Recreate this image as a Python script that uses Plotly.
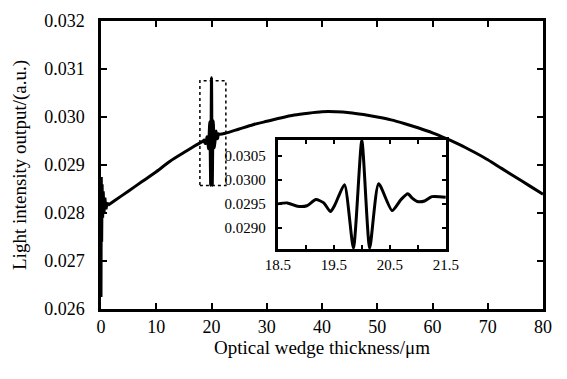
import plotly.graph_objects as go

# ---- data ----
# start-up transient near zero thickness
zero_x = [0.00, 0.05, 0.12, 0.20, 0.30, 0.40, 0.55, 0.70, 0.90, 1.10, 1.25]
zero_y = [0.02625, 0.02875, 0.02740, 0.02860, 0.02790, 0.02845, 0.02800, 0.02832, 0.02808, 0.02822, 0.02816]

# smooth envelope, left of the fringe packet
left_x = [1.25, 2.5, 5.0, 7.5, 10.0, 12.5, 15.0, 17.0]
left_y = [0.02816, 0.02826, 0.02846, 0.02866, 0.02886, 0.02908, 0.02926, 0.02940]

# fringe packet around 20 um (also shown in the inset)
inset_x = [18.50, 18.67, 18.85, 19.02, 19.18, 19.32, 19.44, 19.52, 19.69, 19.85,
           20.00, 20.14, 20.30, 20.54, 20.70, 20.82, 20.90, 20.99, 21.12, 21.25, 21.50]
inset_y = [0.02950, 0.02952, 0.02945, 0.02946, 0.02959, 0.02952, 0.02934, 0.02948, 0.02990, 0.02858,
           0.03082, 0.02858, 0.02992, 0.02936, 0.02959, 0.02971, 0.02962, 0.02955, 0.02956, 0.02965, 0.02964]

# smooth envelope, right of the fringe packet
right_x = [22.5, 25.0, 27.5, 30.0, 32.5, 35.0, 37.5, 40.0, 42.5, 45.0, 47.5, 50.0,
           52.5, 55.0, 57.5, 60.0, 62.5, 65.0, 67.5, 70.0, 72.5, 75.0, 77.5, 80.0]
right_y = [0.02966, 0.02975, 0.02984, 0.02991, 0.02998, 0.03004, 0.03008, 0.03011, 0.03011, 0.03009,
           0.03005, 0.03000, 0.02994, 0.02986, 0.02977, 0.02967, 0.02955, 0.02942, 0.02927, 0.02911,
           0.02893, 0.02875, 0.02857, 0.02839]

main_xticks = [0, 10, 20, 30, 40, 50, 60, 70, 80]
main_yticks = [0.026, 0.027, 0.028, 0.029, 0.030, 0.031, 0.032]
inset_xticks = [18.5, 19.0, 19.5, 20.0, 20.5, 21.0, 21.5]
inset_xtext = ["18.5", "", "19.5", "", "20.5", "", "21.5"]
inset_yticks = [0.0290, 0.0295, 0.0300, 0.0305]

smooth_x = left_x + inset_x + right_x
smooth_y = left_y + inset_y + right_y

FONT = "Liberation Serif"

fig = go.Figure()
fig.add_trace(go.Scatter(x=zero_x, y=zero_y, mode="lines",
                         line=dict(color="black", width=3), xaxis="x", yaxis="y",
                         showlegend=False))
fig.add_trace(go.Scatter(x=smooth_x, y=smooth_y, mode="lines",
                         line=dict(color="black", width=3, shape="spline", smoothing=0.6),
                         xaxis="x", yaxis="y", showlegend=False))
fig.add_trace(go.Scatter(x=inset_x, y=inset_y, mode="lines",
                         line=dict(color="black", width=3, shape="spline", smoothing=0.6),
                         xaxis="x2", yaxis="y2", showlegend=False))

axis_common = dict(showgrid=False, zeroline=False, showline=True, linecolor="black",
                   ticks="inside", tickcolor="black", mirror="ticks")

fig.update_layout(
    width=567, height=379,
    margin=dict(l=101, r=11, t=16, b=70),
    paper_bgcolor="white", plot_bgcolor="white",
    font=dict(family=FONT, color="black", size=18),
    xaxis=dict(domain=[0, 1], range=[0, 80], tickvals=main_xticks,
               linewidth=2.5, ticklen=6, tickwidth=2,
               tickfont=dict(size=18, family=FONT),
               title=dict(text="Optical wedge thickness/μm", font=dict(size=19, family=FONT), standoff=4),
               **axis_common),
    yaxis=dict(domain=[0, 1], range=[0.026, 0.032], tickvals=main_yticks, tickformat=".3f",
               linewidth=2.5, ticklen=6, tickwidth=2, ticklabelstandoff=10,
               tickfont=dict(size=18, family=FONT),
               title=dict(text="Light intensity output/(a.u.)", font=dict(size=19, family=FONT), standoff=13),
               **axis_common),
    xaxis2=dict(domain=[0.4, 0.7802], range=[18.5, 21.5], anchor="y2",
                tickvals=inset_xticks, ticktext=inset_xtext,
                linewidth=3, ticklen=4, tickwidth=2,
                tickfont=dict(size=15, family=FONT),
                **axis_common),
    yaxis2=dict(domain=[0.2082, 0.587], range=[0.02856, 0.03083], anchor="x2",
                tickvals=inset_yticks, tickformat=".4f",
                linewidth=3, ticklen=4, tickwidth=2, ticklabelstandoff=6,
                tickfont=dict(size=15, family=FONT),
                **axis_common),
    shapes=[dict(type="rect", xref="x", yref="y", x0=17.9, x1=22.6, y0=0.028574, y1=0.030757,
                 line=dict(color="black", width=1.5, dash="dot"), layer="above")],
)

fig.write_html("out.html")
